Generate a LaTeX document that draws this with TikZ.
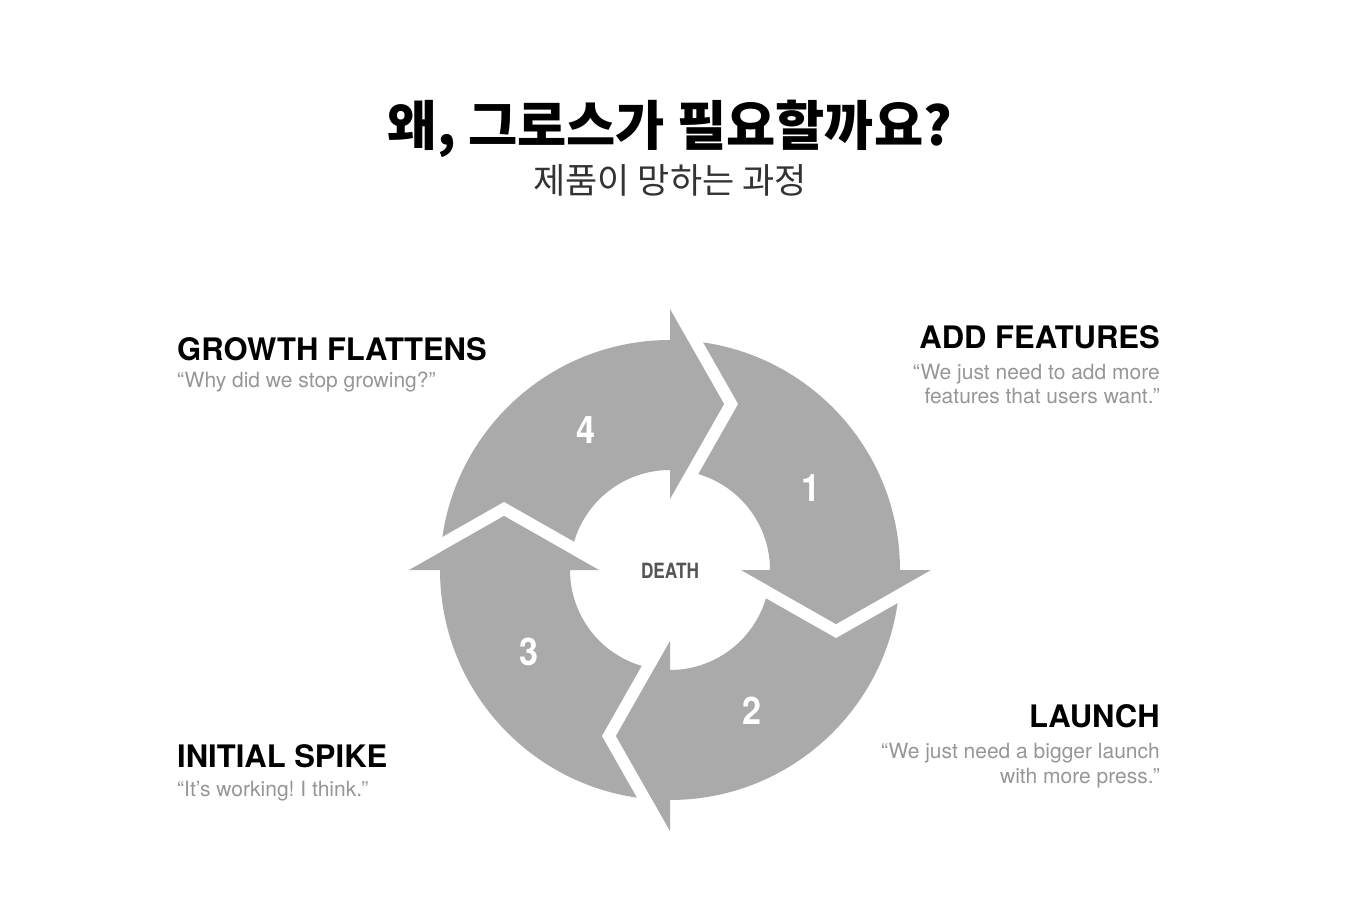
\documentclass[tikz,border=0pt]{standalone}
\usepackage{fontspec}
\usepackage{xcolor}
\usepackage{graphicx}
\usepackage{tikz}
\usetikzlibrary{calc}
\setmainfont{TeX Gyre Heros}
\newfontfamily\krfont{Noto Sans CJK KR}
\definecolor{ringGray}{RGB}{170,170,170}
\definecolor{quoteGray}{RGB}{150,150,150}
\definecolor{deathGray}{RGB}{85,85,85}
\frenchspacing

\begin{document}
\begin{tikzpicture}[x=1pt, y=1pt,
  heading/.style={font=\fontsize{31}{31}\selectfont\bfseries, inner sep=0pt},
  quote/.style={font=\fontsize{21}{24.5}\selectfont, text=quoteGray, inner sep=0pt},
  stepNum/.style={font=\fontsize{38}{38}\selectfont\bfseries, text=white},
  arrowHead/.style={fill=ringGray},
  arrowGap/.style={fill=white}
]
\useasboundingbox (0,0) rectangle (1346,922);

% title
\node[font=\krfont\fontsize{53.5}{53.5}\selectfont\bfseries, anchor=base] (title) at (670,776) {왜, 그로스가 필요할까요?};
\node[font=\krfont\fontsize{35}{35}\selectfont, text=black!80, anchor=base] (subtitle) at (670,728) {제품이 망하는 과정};

% cycle of four arrows
\begin{scope}[shift={(670,352)}]
  \fill[ringGray, even odd rule] (0,0) circle (230) (0,0) circle (100);
  \foreach \ang in {0,-90,180,90} {
    \begin{scope}[rotate=\ang]
      \fill[arrowGap] (71,0) -- (166,-54) -- (261,0) -- (261,-14) -- (166,-68) -- (71,-14) -- cycle;
      \fill[arrowHead] (71,0) -- (261,0) -- (166,-54) -- cycle;
    \end{scope}
  }
  \node[stepNum] (step1) at (30:163) {\scalebox{0.9}[1]{1}};
  \node[stepNum] (step2) at (-60:163) {\scalebox{0.9}[1]{2}};
  \node[stepNum] (step3) at (-150:163) {\scalebox{0.9}[1]{3}};
  \node[stepNum] (step4) at (121:163) {\scalebox{0.9}[1]{4}};
  \node[font=\fontsize{21}{21}\selectfont\bfseries, text=deathGray, anchor=base, inner sep=0pt] (death) at (0,-8) {\scalebox{0.82}[1]{DEATH}};
\end{scope}

% stage labels
\node[heading, anchor=base west] (growth) at (177,561) {GROWTH FLATTENS};
\node[quote, anchor=base west] (growthQuote) at (177,534) {“Why did we stop growing?”};
\node[heading, anchor=base east] (addFeat) at (1160,573) {ADD FEATURES};
\node[quote, anchor=base east, align=right] (addQuote) at (1160,518) {“We just need to add more\\features that users want.”};
\node[heading, anchor=base east] (launch) at (1160,195) {LAUNCH};
\node[quote, anchor=base east, align=right] (launchQuote) at (1160,139) {“We just need a bigger launch\\with more press.”};
\node[heading, anchor=base west] (spike) at (177,155) {INITIAL SPIKE};
\node[quote, anchor=base west] (spikeQuote) at (177,126) {“It’s working! I think.”};
\end{tikzpicture}
\end{document}
